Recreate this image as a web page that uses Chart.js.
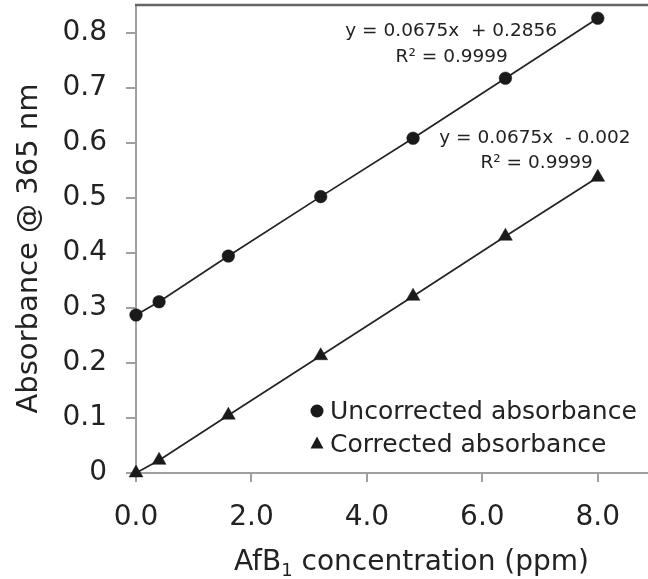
<!DOCTYPE html>
<html><head><meta charset="utf-8">
<script src="https://cdn.jsdelivr.net/npm/chart.js@4.4.0/dist/chart.umd.min.js"></script>
<style>html,body{margin:0;padding:0;background:#fff}#wrap{width:648px;height:579px}</style>
</head><body><div id="wrap"><canvas id="c" width="648" height="579"></canvas></div>
<script>
// ---- data ----
const concentrations = [0, 0.4, 1.6, 3.2, 4.8, 6.4, 8.0];
const uncorrected = [0.287, 0.311, 0.394, 0.502, 0.608, 0.717, 0.826];
const corrected = [0.0, 0.023, 0.105, 0.213, 0.321, 0.430, 0.537];
const seriesLabels = ['Uncorrected absorbance', 'Corrected absorbance'];
const xTicks = [0, 2, 4, 6, 8];
const yTicks = [0, 0.1, 0.2, 0.3, 0.4, 0.5, 0.6, 0.7, 0.8];
const equationTexts = [
  ['y = 0.0675x  + 0.2856', 'R\u00B2 = 0.9999'],
  ['y = 0.0675x  - 0.002', 'R\u00B2 = 0.9999']
];
const xTitleParts = ['AfB', '1', ' concentration (ppm)'];
const yTitle = 'Absorbance @ 365 nm';

// ---- chart ----
const FONT = 'DejaVu Sans';
const TXT = '#222';
const AXIS = '#a0a0a0';
const toPts = (xs, ys) => xs.map((x, i) => ({x: x, y: ys[i]}));

// anchor positions of the equation labels, in data units
const eqAnchors = [
  [{x: 5.46, y: 0.802}, {x: 5.47, y: 0.756}],
  [{x: 6.91, y: 0.608}, {x: 6.94, y: 0.5625}]
];

const overlay = {
  id: 'overlay',
  afterDraw(chart) {
    const ctx = chart.ctx, a = chart.chartArea;
    const xs = chart.scales.x, ys = chart.scales.y;
    ctx.save();
    // top frame line
    ctx.strokeStyle = '#666';
    ctx.lineWidth = 2.5;
    ctx.beginPath();
    ctx.moveTo(a.left - 1, a.top);
    ctx.lineTo(a.right, a.top);
    ctx.stroke();
    // equations
    ctx.fillStyle = TXT;
    ctx.font = '18.5px "' + FONT + '"';
    ctx.textAlign = 'center';
    ctx.textBaseline = 'middle';
    equationTexts.forEach((lines, i) => {
      lines.forEach((t, j) => {
        const p = eqAnchors[i][j];
        ctx.fillText(t, xs.getPixelForValue(p.x), ys.getPixelForValue(p.y));
      });
    });
    // legend
    ctx.font = '25px "' + FONT + '"';
    ctx.textAlign = 'left';
    const lx = a.right - 331, ly = a.bottom - 62, gap = 33;
    chart.data.datasets.forEach((ds, i) => {
      const cy = ly + i * gap;
      ctx.fillStyle = '#1a1a1a';
      if (ds.pointStyle === 'circle') {
        ctx.beginPath();
        ctx.arc(lx, cy, 6.5, 0, Math.PI * 2);
        ctx.fill();
      } else {
        const r = 7.5;
        ctx.beginPath();
        ctx.moveTo(lx, cy - r);
        ctx.lineTo(lx + r * 0.866, cy + r * 0.6);
        ctx.lineTo(lx - r * 0.866, cy + r * 0.6);
        ctx.closePath();
        ctx.fill();
      }
      ctx.fillStyle = TXT;
      ctx.fillText(ds.label, lx + 13, cy + 1);
    });
    // x axis title with subscript
    ctx.fillStyle = TXT;
    ctx.textBaseline = 'alphabetic';
    ctx.textAlign = 'left';
    const big = '28px "' + FONT + '"', small = '18px "' + FONT + '"';
    ctx.font = big; const w0 = ctx.measureText(xTitleParts[0]).width;
    ctx.font = small; const w1 = ctx.measureText(xTitleParts[1]).width;
    ctx.font = big; const w2 = ctx.measureText(xTitleParts[2]).width;
    const tw = w0 + w1 + w2;
    let tx = a.left + 275.5 - tw / 2;
    const tb = a.bottom + 97;
    ctx.font = big; ctx.fillText(xTitleParts[0], tx, tb); tx += w0;
    ctx.font = small; ctx.fillText(xTitleParts[1], tx, tb + 6); tx += w1;
    ctx.font = big; ctx.fillText(xTitleParts[2], tx, tb);
    // y axis title
    ctx.save();
    ctx.translate(36.7, (a.top + a.bottom) / 2 + 9.5);
    ctx.rotate(-Math.PI / 2);
    ctx.textAlign = 'center';
    ctx.font = '29px "' + FONT + '"';
    ctx.fillText(yTitle, 0, 0);
    ctx.restore();
    ctx.restore();
  }
};

new Chart(document.getElementById('c'), {
  type: 'scatter',
  data: {
    datasets: [
      {
        label: seriesLabels[0],
        data: toPts(concentrations, uncorrected),
        showLine: true, tension: 0,
        borderColor: '#222', borderWidth: 1.7,
        pointStyle: 'circle', pointRadius: 6.3,
        pointBackgroundColor: '#1a1a1a', pointBorderColor: '#1a1a1a', pointBorderWidth: 0.5,
        clip: false
      },
      {
        label: seriesLabels[1],
        data: toPts(concentrations, corrected),
        showLine: true, tension: 0,
        borderColor: '#222', borderWidth: 1.7,
        pointStyle: 'triangle', pointRadius: 8,
        pointBackgroundColor: '#1a1a1a', pointBorderColor: '#1a1a1a', pointBorderWidth: 0.5,
        clip: false
      }
    ]
  },
  options: {
    responsive: false,
    animation: false,
    devicePixelRatio: 1,
    layout: {autoPadding: false, padding: {top: 5, right: 0, left: 0, bottom: 0}},
    plugins: {legend: {display: false}, tooltip: {enabled: false}},
    scales: {
      x: {
        type: 'linear', min: 0, max: 8.87,
        afterBuildTicks: s => { s.ticks = xTicks.map(v => ({value: v})); },
        afterFit: s => { s.height = 106; s.paddingLeft = 0; s.paddingRight = 0; },
        ticks: {
          callback: v => Number(v).toFixed(1),
          font: {family: FONT, size: 28}, color: TXT, padding: 19, maxRotation: 0, autoSkip: false
        },
        grid: {drawOnChartArea: false, drawTicks: true, tickLength: 9, color: AXIS, lineWidth: 2},
        border: {display: true, color: AXIS, width: 2},
        title: {display: false}
      },
      y: {
        type: 'linear', min: 0, max: 0.85,
        afterBuildTicks: s => { s.ticks = yTicks.map(v => ({value: v})); },
        afterFit: s => { s.width = 136; s.paddingTop = 0; s.paddingBottom = 0; },
        ticks: {
          callback: v => v === 0 ? '0' : Number(v).toFixed(1),
          font: {family: FONT, size: 28}, color: TXT, padding: 19, autoSkip: false
        },
        grid: {drawOnChartArea: false, drawTicks: true, tickLength: 10, color: AXIS, lineWidth: 2},
        border: {display: true, color: AXIS, width: 2},
        title: {display: false}
      }
    }
  },
  plugins: [overlay]
});
</script></body></html>
